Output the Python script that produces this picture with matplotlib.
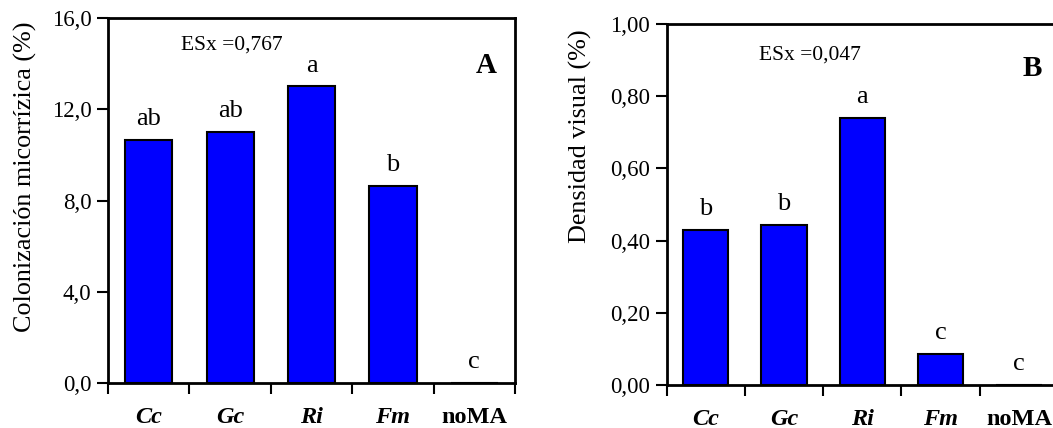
import numpy as np
import matplotlib.pyplot as plt
from matplotlib.ticker import FixedLocator, FuncFormatter

plt.rcParams['font.family'] = ['Liberation Serif', 'DejaVu Serif']

# Treatments (AMF inoculants) and their results
treatments = ['Cc', 'Gc', 'Ri', 'Fm', 'noMA']
colonizacion = [10.65, 11.0, 13.0, 8.65, 0.0]
colon_letters = ['ab', 'ab', 'a', 'b', 'c']
densidad = [0.429, 0.443, 0.739, 0.086, 0.0]
dens_letters = ['b', 'b', 'a', 'c', 'c']

colon_ticks = [0, 4, 8, 12, 16]
dens_ticks = [0.0, 0.2, 0.4, 0.6, 0.8, 1.0]


def draw_panel(ax, values, letters, yticks, decimals, ylabel, esx, panel, lab_xy, esx_xy, pan_xy):
    x = np.arange(len(values)) + 0.5
    ax.bar(x, values, width=0.58, color='#0000ff', edgecolor='black', linewidth=1.5, zorder=2)
    for xi, v, t in zip(x, values, letters):
        ax.annotate(t, (xi, v), xytext=(0, 7), textcoords='offset points',
                    ha='center', va='bottom', fontsize=19)

    ax.set_xlim(0, len(values))
    ax.set_ylim(yticks[0], yticks[-1])

    # category boundaries get the tick marks, labels sit between them
    ax.xaxis.set_major_locator(FixedLocator(np.arange(len(values) + 1)))
    ax.xaxis.set_major_formatter(FuncFormatter(lambda v, p: ''))
    ax.xaxis.set_minor_locator(FixedLocator(x))
    ax.set_xticklabels(treatments, minor=True)
    ax.tick_params(axis='x', which='major', direction='out', length=8, width=1.5)
    ax.tick_params(axis='x', which='minor', length=0, pad=17, labelsize=17.5)
    for lbl, name in zip(ax.get_xticklabels(minor=True), treatments):
        lbl.set_fontweight('bold')
        if name != 'noMA':
            lbl.set_fontstyle('italic')

    ax.set_yticks(yticks)
    ax.yaxis.set_major_formatter(FuncFormatter(
        lambda v, p: f'{v:.{decimals}f}'.replace('.', ',')))
    ax.tick_params(axis='y', direction='out', length=8, width=1.5, labelsize=16.5, pad=4)

    for s in ax.spines.values():
        s.set_linewidth(2)

    ax.set_ylabel(ylabel, fontsize=18.8)
    ax.yaxis.set_label_coords(*lab_xy)
    ax.text(*esx_xy, esx, transform=ax.transAxes, ha='center', va='center', fontsize=15.5)
    ax.text(*pan_xy, panel, transform=ax.transAxes, ha='center', va='center',
            fontsize=21, fontweight='bold')


fig = plt.figure(figsize=(10.53, 4.28), dpi=100)
axA = fig.add_axes([0.1026, 0.105, 0.3865, 0.853])
axB = fig.add_axes([0.633, 0.1005, 0.3718, 0.8435])

draw_panel(axA, colonizacion, colon_letters, colon_ticks, 1,
           'Colonización micorrízica (%)', 'ESx =0,767', 'A',
           (-0.174, 0.564), (0.305, 0.926), (0.93, 0.871))
draw_panel(axB, densidad, dens_letters, dens_ticks, 2,
           'Densidad visual (%)', 'ESx =0,047', 'B',
           (-0.191, 0.69), (0.366, 0.914), (0.933, 0.878))

fig.savefig('out.png', dpi=100)
